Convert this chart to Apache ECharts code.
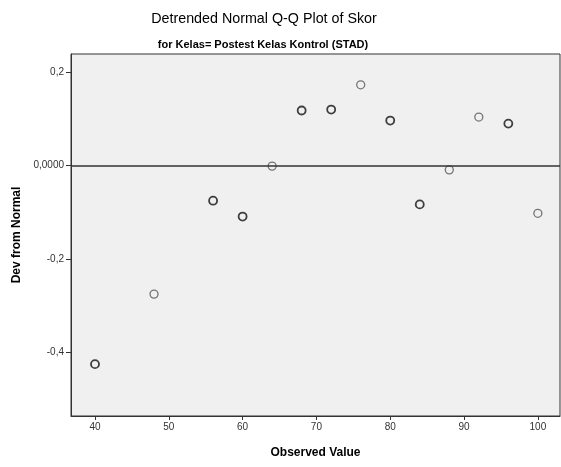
<!DOCTYPE html>
<html><head><meta charset="utf-8">
<script src="https://cdn.jsdelivr.net/npm/echarts@6/dist/echarts.min.js"></script>
<style>html,body{margin:0;padding:0;background:#fff}#c{width:561px;height:467px}</style>
</head><body><div id="c"></div>
<script>
// Observed values and deviations from normal (tied values drawn darker)
const observedDark = [40, 56, 60, 68, 72, 80, 84, 96];
const devDark = [-0.425, -0.075, -0.109, 0.118, 0.120, 0.0965, -0.083, 0.090];
const observedLight = [48, 64, 76, 88, 92, 100];
const devLight = [-0.275, -0.001, 0.173, -0.009, 0.104, -0.102];
const xTicks = [40, 50, 60, 70, 80, 90, 100];
const yTicks = [-0.4, -0.2, 0, 0.2];

const font = 'Liberation Sans, Arial, sans-serif';
const pair = (xs, ys) => xs.map((x, i) => [x, ys[i]]);

const chart = echarts.init(document.getElementById('c'), null, {renderer: 'canvas'});
chart.setOption({
  animation: false,
  backgroundColor: '#fff',
  title: [
    {text: 'Detrended Normal Q-Q Plot of Skor', left: 259, top: 7, textAlign: 'center',
     textStyle: {fontFamily: font, fontSize: 14.3, fontWeight: 'normal', color: '#000'}},
    {text: 'for Kelas= Postest Kelas Kontrol (STAD)', left: 258, top: 34, textAlign: 'center',
     textStyle: {fontFamily: font, fontSize: 11, fontWeight: 'bold', color: '#000'}}
  ],
  grid: {left: 71, top: 54, right: 1, bottom: 51, show: true, outerBoundsMode: 'none', containLabel: false,
         backgroundColor: '#f0f0f0', borderColor: '#333', borderWidth: 1},
  xAxis: {
    type: 'value', min: 36.75, max: 103,
    name: 'Observed Value', nameLocation: 'middle', nameGap: 31,
    nameTextStyle: {fontFamily: font, fontSize: 12, fontWeight: 'bold', color: '#000'},
    axisLine: {show: true, onZero: false, lineStyle: {color: '#333'}},
    axisTick: {show: true, length: 4, customValues: xTicks, lineStyle: {color: '#333'}},
    axisLabel: {customValues: xTicks, fontFamily: font, fontSize: 10, color: '#333', margin: 6},
    splitLine: {show: false}
  },
  yAxis: {
    type: 'value', min: -0.536, max: 0.239,
    name: 'Dev from Normal', nameLocation: 'middle', nameGap: 45, nameRotate: 90,
    nameTextStyle: {fontFamily: font, fontSize: 12, fontWeight: 'bold', color: '#000'},
    axisLine: {show: true, onZero: false, lineStyle: {color: '#333'}},
    axisTick: {show: true, length: 5, customValues: yTicks, lineStyle: {color: '#333'}},
    axisLabel: {customValues: yTicks, fontFamily: font, fontSize: 10, color: '#333', margin: 7,
      formatter: v => Math.abs(v) < 1e-9 ? '0,0000' : String(Math.round(v * 10) / 10).replace('.', ',')},
    splitLine: {show: false}
  },
  series: [
    {type: 'scatter', data: pair(observedLight, devLight), symbol: 'circle', symbolSize: 8,
     itemStyle: {color: 'rgba(0,0,0,0)', borderColor: '#555', borderWidth: 1.3},
     markLine: {silent: true, symbol: 'none', label: {show: false},
       lineStyle: {color: '#333', width: 1.5, type: 'solid'}, data: [{yAxis: 0}]}},
    {type: 'scatter', data: pair(observedDark, devDark), symbol: 'circle', symbolSize: 8,
     itemStyle: {color: 'rgba(0,0,0,0)', borderColor: '#111', borderWidth: 1.8}}
  ]
});
</script></body></html>
